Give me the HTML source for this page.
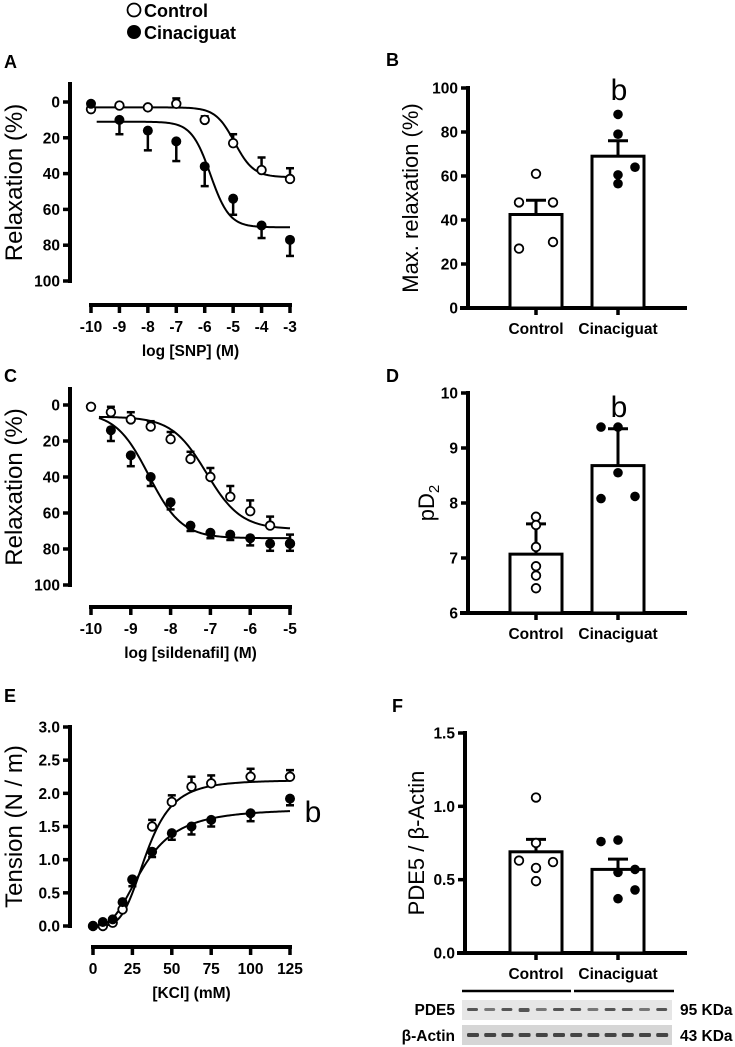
<!DOCTYPE html>
<html><head><meta charset="utf-8">
<style>
html,body{margin:0;padding:0;background:#fff;}
svg{display:block;font-family:"Liberation Sans",Arial,sans-serif;}
.tk{font-weight:bold;font-size:15.5px;}
.pl{font-weight:bold;font-size:18px;}
</style></head>
<body>
<svg id="fig" width="735" height="1047" viewBox="0 0 735 1047" xmlns="http://www.w3.org/2000/svg">
<g>
<circle cx="134" cy="10" r="6.5" fill="#fff" stroke="#000" stroke-width="1.8"/>
<text x="144" y="17" class="pl">Control</text>
<circle cx="134" cy="32" r="7" fill="#000"/>
<text x="144" y="39" class="pl">Cinaciguat</text>
</g>
<text x="4" y="68" class="pl">A</text>
<text x="386" y="66" class="pl">B</text>
<text x="4" y="382" class="pl">C</text>
<text x="386" y="382" class="pl">D</text>
<text x="4" y="702" class="pl">E</text>
<text x="392" y="712" class="pl">F</text>
</svg>
<script>
// ---------- Panel A data ----------
const aX = [-10,-9,-8,-7,-6,-5,-4,-3];
const aCtrl = [4,2,3,1,10,23,38,43];
const aCtrlErr = [0,0,0,3,2,5,7,6];
const aCin = [1,10,16,22,36,54,69,77];
const aCinErr = [0,8,11,11,11,9,7,9];
const aXTicks = [-10,-9,-8,-7,-6,-5,-4,-3];
const aYTicks = [0,20,40,60,80,100];
// ---------- Panel C data ----------
const cX = [-10,-9.5,-9,-8.5,-8,-7.5,-7,-6.5,-6,-5.5,-5];
const cCtrl = [1,4,8,12,19,30,40,51,59,67,77];
const cCtrlErr = [0,3,4,3,4,4,5,6,6,5,5];
const cCin = [null,14,28,40,54,67,71,72,74,77,77];
const cCinErr = [0,6,6,5,4,3,3,3,4,4,4];
const cXTicks = [-10,-9,-8,-7,-6,-5];
const cYTicks = [0,20,40,60,80,100];
// ---------- Panel E data ----------
const eX = [0,6.25,12.5,18.75,25,37.5,50,62.5,75,100,125];
const eCtrl = [0,0,0.05,0.25,0.7,1.5,1.87,2.1,2.15,2.25,2.25];
const eCtrlErr = [0,0,0,0,0,0.1,0.1,0.15,0.12,0.12,0.1];
const eCin = [0,0.06,0.1,0.36,0.7,1.12,1.4,1.5,1.6,1.7,1.92];
const eCinErr = [0,0,0,0,0.1,0.08,0.1,0.12,0.1,0.12,0.1];
const eXTicks = [0,25,50,75,100,125];
const eYTicks = [0,0.5,1,1.5,2,2.5,3];
// ---------- Panel B data ----------
const bCats = ["Control","Cinaciguat"];
const bMeans = [42.5,69];
const bSem = [6.5,7];
const bCtrlPts = [61,48,48,27,30];
const bCtrlOff = [0,-1,1,-1,1];
const bCinPts = [88,79,64,60.5,56.5];
const bCinOff = [0,0,1,0,0];
const bYTicks = [0,20,40,60,80,100];
// ---------- Panel D data ----------
const dMeans = [7.07,8.68];
const dSem = [0.55,0.67];
const dCtrlPts = [7.75,7.6,7.2,6.85,6.68,6.45];
const dCtrlOff = [0,0,0,0,0,0];
const dCinPts = [9.38,9.38,8.55,8.08,8.12];
const dCinOff = [-1,0,0,-1,1];
const dYTicks = [6,7,8,9,10];
// ---------- Panel F data ----------
const fMeans = [0.69,0.57];
const fSem = [0.085,0.07];
const fCtrlPts = [1.06,0.75,0.63,0.62,0.58,0.49];
const fCtrlOff = [0,0,-1,1,0,0];
const fCinPts = [0.76,0.77,0.55,0.57,0.43,0.37];
const fCinOff = [-1,0,0,1,1,0];
const fYTicks = [0,0.5,1,1.5];
const fYTickLabels = ["0.0","0.5","1.0","1.5"];

const NS = "http://www.w3.org/2000/svg";
const svg = document.getElementById('fig');
function mk(tag, attrs, parent, name){
  const el = document.createElementNS(NS, tag);
  for (const k in attrs) el.setAttribute(k, attrs[k]);
  
  
  (parent||svg).appendChild(el);
  return el;
}
function txt(s, x, y, cls, anchor, parent, name, extra){
  const t = mk('text', Object.assign({x:x, y:y, class:cls||'', 'text-anchor':anchor||'start'}, extra||{}), parent, name);
  t.textContent = s;
  return t;
}
function lin(x1,y1,x2,y2,w,parent,name){
  return mk('line',{x1:x1,y1:y1,x2:x2,y2:y2,stroke:'#000','stroke-width':w},parent,name);
}
function linScale(d0,d1,r0,r1){ return v => r0 + (v-d0)/(d1-d0)*(r1-r0); }

function xyPanel(o){
  const g = mk('g',{},svg,o.name);
  const sx = linScale(o.xd[0],o.xd[1],o.xr[0],o.xr[1]);
  const sy = linScale(o.yd[0],o.yd[1],o.yr[0],o.yr[1]);
  lin(o.yAxisX,o.yAxisTop,o.yAxisX,o.yAxisBot,4,g,'y-axis-line');
  o.yTicks.forEach((v,i)=>{
    lin(o.yAxisX-7,sy(v),o.yAxisX,sy(v),3.5,g,'y-tick');
    txt(o.yLabels?o.yLabels[i]:String(v),o.yAxisX-10,sy(v)+5.5,'tk','end',g,'y-tick-label');
  });
  lin(sx(o.xd[0])-2,o.xAxisY,sx(o.xd[1])+2,o.xAxisY,4,g,'x-axis-line');
  o.xTicks.forEach(v=>{
    lin(sx(v),o.xAxisY,sx(v),o.xAxisY+8,3.5,g,'x-tick');
    txt(String(v),sx(v),o.xAxisY+27,'tk','middle',g,'x-tick-label');
  });
  txt(o.xTitle,(sx(o.xd[0])+sx(o.xd[1]))/2,o.xAxisY+51,'tk','middle',g,'x-axis-title',{'font-size':'16px'});
  const yc=(o.yAxisTop+o.yAxisBot)/2;
  txt(o.yTitle,0,0,'','middle',g,'y-axis-title',{transform:`translate(${o.yTitleX},${yc}) rotate(-90)`,'font-size':'24px'});
  o.series.forEach(s=>{
    let d='';
    for(let i=0;i<=120;i++){
      const xv=s.cx0+(s.cx1-s.cx0)*i/120;
      d+=(i?'L':'M')+sx(xv).toFixed(2)+','+sy(s.fn(xv)).toFixed(2);
    }
    mk('path',{d:d,fill:'none',stroke:'#000','stroke-width':2},g,s.name+'-fit-curve');
  });
  o.series.forEach(s=>{
    s.x.forEach((xv,i)=>{
      const yv=s.y[i]; if(yv==null) return;
      const e=s.err[i];
      if(e>0){
        const ye=sy(yv+s.dir*e);
        lin(sx(xv),sy(yv),sx(xv),ye,2.5,g,s.name+'-error-bar');
        lin(sx(xv)-4,ye,sx(xv)+4,ye,2.5,g,s.name+'-error-cap');
      }
      mk('circle',{cx:sx(xv),cy:sy(yv),r:s.filled?5:4.3,fill:s.filled?'#000':'#fff',stroke:'#000','stroke-width':s.filled?0:1.8},g,s.name+'-point');
    });
  });
  return {sx,sy,g};
}

xyPanel({name:'panel-a-snp-chart',xd:[-10,-3],xr:[91,290],yd:[0,100],yr:[102,281],yAxisX:70,yAxisTop:82,yAxisBot:283,xAxisY:305,
  xTicks:aXTicks,yTicks:aYTicks,xTitle:'log [SNP] (M)',yTitle:'Relaxation (%)',yTitleX:22,
  series:[
    {name:'control',x:aX,y:aCtrl,err:aCtrlErr,dir:-1,filled:false,cx0:-10,cx1:-3,fn:x=>3+(42-3)/(1+Math.pow(10,(-4.95-x)*1.3))},
    {name:'cinaciguat',x:aX,y:aCin,err:aCinErr,dir:1,filled:true,cx0:-9.8,cx1:-3,fn:x=>11+(70-11)/(1+Math.pow(10,(-5.8-x)*1.3))}
  ]});
xyPanel({name:'panel-c-sildenafil-chart',xd:[-10,-5],xr:[91,290],yd:[0,100],yr:[405,585],yAxisX:70,yAxisTop:387,yAxisBot:587,xAxisY:607,
  xTicks:cXTicks,yTicks:cYTicks,xTitle:'log [sildenafil] (M)',yTitle:'Relaxation (%)',yTitleX:22,
  series:[
    {name:'control',x:cX,y:cCtrl,err:cCtrlErr,dir:-1,filled:false,cx0:-9.8,cx1:-5,fn:x=>6.5+(69-6.5)/(1+Math.pow(10,(-7.1-x)*1.0))},
    {name:'cinaciguat',x:cX,y:cCin,err:cCinErr,dir:1,filled:true,cx0:-9.8,cx1:-5,fn:x=>4+(74-4)/(1+Math.pow(10,(-8.55-x)*1.05))}
  ]});
xyPanel({name:'panel-e-kcl-chart',xd:[0,125],xr:[93,290],yd:[0,3],yr:[926,727],yAxisX:70,yAxisTop:725,yAxisBot:928,xAxisY:947,
  xTicks:eXTicks,yTicks:eYTicks,yLabels:['0.0','0.5','1.0','1.5','2.0','2.5','3.0'],xTitle:'[KCl] (mM)',yTitle:'Tension (N / m)',yTitleX:22,
  series:[
    {name:'control',x:eX,y:eCtrl,err:eCtrlErr,dir:1,filled:false,cx0:6,cx1:125,fn:x=>2.2*Math.pow(x,4)/(Math.pow(x,4)+Math.pow(34,4))},
    {name:'cinaciguat',x:eX,y:eCin,err:eCinErr,dir:-1,filled:true,cx0:6,cx1:125,fn:x=>1.77*Math.pow(x,2.8)/(Math.pow(x,2.8)+Math.pow(32,2.8))}
  ]});
txt('b',313,822,'','middle',svg,'significance-label-e',{'font-size':'30px'});

function barPanel(o){
  const g = mk('g',{},svg,o.name);
  const sy = linScale(o.yd[0],o.yd[1],o.yr[0],o.yr[1]);
  const bx=[[510,562],[592,644]];
  lin(o.axX,sy(o.yd[1])-2,o.axX,sy(o.yd[0]),4,g,'y-axis-line');
  lin(o.axX-8,sy(o.yd[0]),687,sy(o.yd[0]),4,g,'x-axis-line');
  o.yTicks.forEach((v,i)=>{
    lin(o.axX-7,sy(v),o.axX,sy(v),3.5,g,'y-tick');
    txt(o.yLabels?o.yLabels[i]:String(v),o.axX-10,sy(v)+5.5,'tk','end',g,'y-tick-label');
  });
  [0,1].forEach(i=>{
    const cx=(bx[i][0]+bx[i][1])/2;
    lin(cx,sy(o.yd[0]),cx,sy(o.yd[0])+7,3.5,g,'x-tick');
    txt(bCats[i],cx,sy(o.yd[0])+26,'tk','middle',g,'x-tick-label-'+bCats[i].toLowerCase());
    const top=sy(o.means[i]), et=sy(o.means[i]+o.sem[i]);
    lin(cx,top,cx,et,3,g,'error-bar-'+bCats[i].toLowerCase());
    lin(cx-10,et,cx+10,et,3,g,'error-cap-'+bCats[i].toLowerCase());
    mk('rect',{x:bx[i][0],y:top,width:bx[i][1]-bx[i][0],height:sy(o.yd[0])-top,fill:'#fff',stroke:'#000','stroke-width':3},g,'bar-'+bCats[i].toLowerCase());
    const pts=i?o.cin:o.ctrl, off=i?o.cinOff:o.ctrlOff;
    pts.forEach((v,j)=>{
      mk('circle',{cx:cx+off[j]*17,cy:sy(v),r:i?4.8:4.3,fill:i?'#000':'#fff',stroke:'#000','stroke-width':i?0:1.8},g,(i?'cinaciguat':'control')+'-point');
    });
  });
  if(o.yTitle) txt(o.yTitle,0,0,'','middle',g,'y-axis-title',{transform:`translate(${o.yTitleX},${(sy(o.yd[0])+sy(o.yd[1]))/2}) rotate(-90)`,'font-size':'22px'});
  return {g,sy};
}
barPanel({name:'panel-b-max-relaxation-chart',yd:[0,100],yr:[308,88],axX:468,yTicks:bYTicks,means:bMeans,sem:bSem,ctrl:bCtrlPts,ctrlOff:bCtrlOff,cin:bCinPts,cinOff:bCinOff,yTitle:'Max. relaxation (%)',yTitleX:418});
txt('b',619,100,'','middle',svg,'significance-label-b',{'font-size':'30px'});
barPanel({name:'panel-d-pd2-chart',yd:[6,10],yr:[613,393],axX:468,yTicks:dYTicks,means:dMeans,sem:dSem,ctrl:dCtrlPts,ctrlOff:dCtrlOff,cin:dCinPts,cinOff:dCinOff,yTitle:'',yTitleX:428});
const pd = mk('text',{x:0,y:0,transform:'translate(434,503) rotate(-90)','text-anchor':'middle','font-size':'22px'},svg,'y-axis-title-pd2');
pd.innerHTML='pD<tspan font-size="15px" dy="5">2</tspan>';
txt('b',619,417,'','middle',svg,'significance-label-d',{'font-size':'30px'});
barPanel({name:'panel-f-pde5-chart',yd:[0,1.5],yr:[953,733],axX:465,yTicks:fYTicks,yLabels:fYTickLabels,means:fMeans,sem:fSem,ctrl:fCtrlPts,ctrlOff:fCtrlOff,cin:fCinPts,cinOff:fCinOff,yTitle:'PDE5 / β-Actin',yTitleX:424});

const wb = mk('g',{},svg,'western-blot');
lin(462,991,571,991,2.5,wb,'control-lanes-line');
lin(574,991,674,991,2.5,wb,'cinaciguat-lanes-line');
mk('rect',{x:462,y:1000,width:210,height:20,fill:'#e6e6e6'},wb,'pde5-blot-strip');
mk('rect',{x:462,y:1025,width:210,height:20,fill:'#d6d6d6'},wb,'actin-blot-strip');
for(let i=0;i<12;i++){
  const x=467+i*17.2;
  mk('rect',{x:x,y:1008,width:11,height:i===3?4:3,fill:i%3===1?'#777':'#555',rx:1.5},wb,'pde5-band');
  mk('rect',{x:x,y:1033,width:12,height:4,fill:'#444',rx:1.5},wb,'actin-band');
}
txt('PDE5',455,1015,'tk','end',wb,'pde5-label');
txt('β-Actin',455,1041,'tk','end',wb,'actin-label');
txt('95 KDa',680,1015,'tk','start',wb,'pde5-kda-label');
txt('43 KDa',680,1041,'tk','start',wb,'actin-kda-label');
</script>
</body></html>
